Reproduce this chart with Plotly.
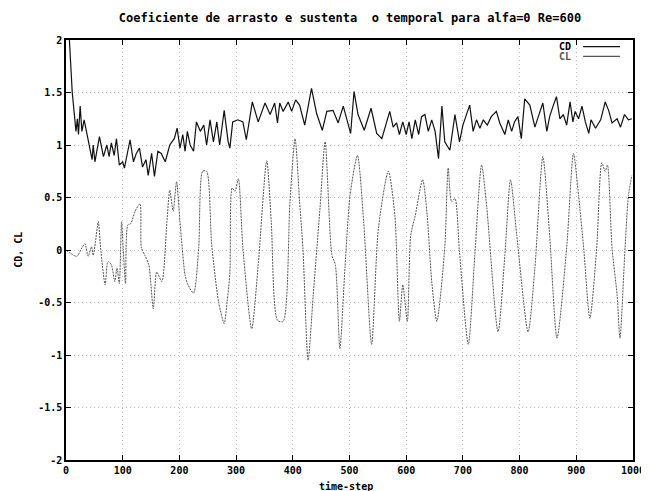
import plotly.graph_objects as go

# ---- data ----
cd_x = [0, 6, 11, 17.6, 20, 22, 25, 28, 32, 37, 43, 46, 48, 51, 59, 66, 72, 76, 80, 85, 89, 94, 100, 103,
        113, 119, 124, 129.5, 135, 141, 145, 151, 156, 162, 168, 175, 183, 191, 196, 201, 206, 210, 214,
        219, 225, 230, 237, 243, 248, 254, 260, 266, 271, 279, 286, 289, 294, 303, 312, 318, 328.6, 339,
        351, 360, 368, 373, 377, 383, 392, 398, 405, 412, 421, 433, 442, 452, 460, 471, 480, 489, 497,
        502, 508, 515, 526, 538, 548, 557, 571, 577, 583, 588, 594, 600, 605, 610, 616, 622, 627, 633,
        639, 645, 651, 657, 663, 668, 677, 686, 694, 700, 712, 718, 724, 730, 736, 743, 750, 759, 765,
        774, 780, 786, 791, 797, 803, 809, 818, 827, 833, 841, 848, 853, 859, 865, 871, 877, 883, 889,
        894, 898, 904, 910, 916, 922, 926, 934, 943, 951, 957, 963, 972, 978, 985, 992, 998]
cd_y = [2.4, 2.0, 1.5, 1.13, 1.25, 1.1, 1.37, 1.13, 1.24, 1.10, 0.94, 0.86, 1.0, 0.84, 1.08, 0.89, 1.0,
        0.89, 1.02, 0.90, 1.06, 0.81, 0.84, 0.78, 1.05, 0.84, 0.92, 0.97, 0.79, 0.86, 0.71, 0.92, 0.70,
        0.94, 0.92, 0.84, 1.0, 1.06, 1.16, 0.97, 1.10, 0.94, 1.13, 1.0, 0.94, 1.22, 1.13, 1.19, 1.0, 1.24,
        1.03, 1.22, 1.0, 1.33, 1.03, 0.97, 1.22, 1.24, 1.22, 1.05, 1.41, 1.22, 1.40, 1.29, 1.40, 1.21,
        1.40, 1.32, 1.41, 1.32, 1.43, 1.38, 1.19, 1.54, 1.30, 1.14, 1.32, 1.33, 1.21, 1.37, 1.21, 1.11,
        1.51, 1.29, 1.14, 1.35, 1.11, 1.06, 1.32, 1.17, 1.21, 1.10, 1.22, 1.10, 1.22, 1.06, 1.24, 1.10,
        1.27, 1.29, 1.13, 1.24, 1.13, 0.87, 1.37, 1.03, 0.95, 1.29, 1.03, 1.19, 1.38, 1.13, 1.24, 1.16,
        1.24, 1.19, 1.27, 1.32, 1.21, 1.10, 1.24, 1.13, 1.22, 1.27, 1.06, 1.44, 1.38, 1.17, 1.27, 1.40,
        1.13, 1.27, 1.37, 1.46, 1.25, 1.29, 1.19, 1.41, 1.22, 1.32, 1.25, 1.37, 1.22, 1.11, 1.24, 1.16,
        1.24, 1.41, 1.33, 1.21, 1.25, 1.17, 1.29, 1.24, 1.25]

cl_x = [0, 19, 28, 33.5, 39, 45, 48, 52, 57, 61, 69, 74, 80, 86, 90, 94, 98, 101, 105, 109, 114, 122,
        130.5, 133, 139, 146, 154, 160, 169, 178, 183, 189, 195, 201, 210, 215, 225, 234, 241, 248, 257,
        269, 279, 284, 289, 293, 298, 304, 312, 327.5, 339, 354, 362, 373, 383, 395, 404, 412, 418, 427,
        436, 448, 457, 469, 475, 483, 492, 501, 514, 525, 539, 551, 568.5, 580, 588, 594, 602, 608, 616,
        629, 637, 645, 654, 668, 674, 680, 686, 694, 709.5, 721, 733, 742, 762, 774, 784, 795, 815, 827,
        841, 853, 866, 883, 895, 904, 913, 924, 936, 945, 951, 955, 963, 972, 977, 986, 992, 998]
cl_y = [0, -0.06, 0.02, 0.06, -0.06, 0.03, -0.05, 0.08, 0.27, 0.02, -0.33, -0.11, -0.14, -0.30, -0.17,
        -0.32, 0.27, 0.0, -0.32, 0.24, 0.25, 0.37, 0.44, 0.02, -0.05, -0.14, -0.56, -0.21, -0.30, 0.27,
        0.57, 0.37, 0.65, 0.27, -0.24, -0.33, -0.41, 0.02, 0.75, 0.75, 0.05, -0.49, -0.70, -0.5, -0.22,
        0.59, 0.56, 0.68, 0.02, -0.75, -0.14, 0.85, 0.27, -0.67, -0.68, 0.46, 1.06, 0.46, 0.0, -1.05,
        -0.43, 0.40, 1.03, -0.05, -0.14, -0.94, -0.17, 0.52, 0.90, 0.27, -0.90, 0.21, 0.75, 0.33, -0.68,
        -0.33, -0.68, 0.14, 0.33, 0.67, 0.33, -0.30, -0.68, 0.02, 0.78, 0.46, 0.49, -0.02, -0.90, -0.05,
        0.81, 0.41, -0.78, -0.05, 0.67, 0.14, -0.78, -0.17, 0.89, 0.14, -0.84, 0.02, 0.92, 0.52, 0.02,
        -0.65, 0.02, 0.83, 0.75, 0.81, 0.02, -0.43, -0.84, 0.02, 0.52, 0.71]

x_ticks = [0, 100, 200, 300, 400, 500, 600, 700, 800, 900, 1000]
x_tick_labels = ["0", "100", "200", "300", "400", "500", "600", "700", "800", "900", "1000"]
y_ticks = [-2, -1.5, -1, -0.5, 0, 0.5, 1, 1.5, 2]
y_tick_labels = ["-2", "-1.5", "-1", "-0.5", "0", "0.5", "1", "1.5", "2"]

FONT = "DejaVu Sans Mono"
txt_font = dict(family=FONT, size=10, color="black", weight="bold")

fig = go.Figure()
fig.add_trace(go.Scatter(x=cd_x, y=cd_y, mode="lines", name="CD",
                         line=dict(color="#111111", width=1.2)))
fig.add_trace(go.Scatter(x=cl_x, y=cl_y, mode="lines", name="CL",
                         line=dict(color="#555555", width=1.0, dash="2px,1px", shape="spline", smoothing=0.7)))

axis_common = dict(showline=True, linecolor="black", linewidth=1.5, mirror="ticks",
                   ticks="inside", ticklen=5, tickcolor="black", tickwidth=1,
                   showgrid=True, gridcolor="#bdbdbd", griddash="1px,3px", gridwidth=1,
                   zeroline=False, tickfont=txt_font)

fig.update_xaxes(range=[0, 1000], tickvals=x_ticks, ticktext=x_tick_labels, **axis_common)
fig.update_yaxes(range=[-2, 2], tickvals=y_ticks, ticktext=y_tick_labels, **axis_common)

# axis titles
fig.add_annotation(xref="paper", yref="paper", x=0.4947, y=-0.062, text="time-step", showarrow=False,
                   xanchor="center", yanchor="middle", font=txt_font)
fig.add_annotation(xref="paper", yref="paper", x=-0.085, y=0.5, text="CD, CL", showarrow=False,
                   textangle=-90, xanchor="center", yanchor="middle", font=txt_font)

# gnuplot-style key: label then line sample
fig.add_annotation(xref="paper", yref="paper", x=0.895, y=0.984, text="CD", showarrow=False,
                   xanchor="right", yanchor="middle", font=txt_font)
fig.add_annotation(xref="paper", yref="paper", x=0.895, y=0.961, text="CL", showarrow=False,
                   xanchor="right", yanchor="middle", font=dict(family=FONT, size=10, color="#555555", weight="bold"))
fig.add_shape(type="line", xref="paper", yref="paper", x0=0.912, x1=0.977, y0=0.984, y1=0.984,
              line=dict(color="#111111", width=1.2))
fig.add_shape(type="line", xref="paper", yref="paper", x0=0.912, x1=0.977, y0=0.961, y1=0.961,
              line=dict(color="#555555", width=1.2))

fig.update_layout(
    width=641, height=483,
    margin=dict(l=58, r=16, t=32, b=31, autoexpand=False),
    paper_bgcolor="white", plot_bgcolor="white",
    showlegend=False,
    title=dict(text="Coeficiente de arrasto e sustenta\u00a0\u00a0o temporal para alfa=0 Re=600",
               x=0.5335, xanchor="center", y=0.979, yanchor="middle",
               font=dict(family=FONT, size=12, color="black", weight="bold")),
)

fig.write_html("out.html")
